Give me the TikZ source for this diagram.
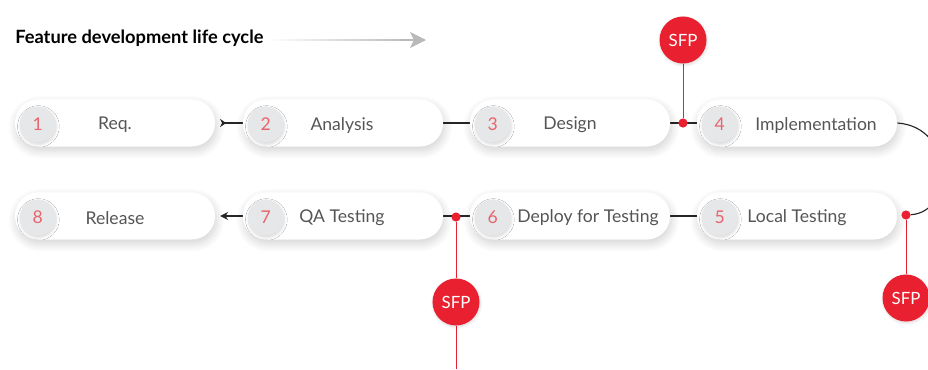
\documentclass[tikz,border=0pt]{standalone}
\usepackage{fontspec}
\setmainfont{Lato}
\usetikzlibrary{arrows.meta,shadows.blur,positioning}
\definecolor{sfpred}{HTML}{E8202F}
\definecolor{numred}{HTML}{E8646C}
\definecolor{numgray}{HTML}{E6E7E9}
\definecolor{txtgray}{HTML}{555555}
\pgfdeclarelayer{bg}
\pgfsetlayers{bg,main}
\tikzset{
  pill/.style={fill=white, rounded corners=0.58cm, minimum width=5cm, minimum height=1.175cm,
    blur shadow={shadow xshift=1pt, shadow yshift=-3pt, shadow blur radius=6pt, shadow blur steps=10, shadow opacity=18}},
  num/.style={circle, fill=numgray, minimum size=0.9cm, inner sep=0pt, text=numred,
    font=\fontsize{12.5}{14}\selectfont, yshift=-1pt,
    blur shadow={shadow xshift=0.5pt, shadow yshift=-1.5pt, shadow blur radius=2pt, shadow opacity=15}},
  steplabel/.style={text=txtgray, font=\fontsize{12.5}{14}\selectfont, inner sep=0pt, yshift=-1.5pt},
  sfp/.style={circle, fill=sfpred, minimum size=1.175cm, inner sep=0pt, text=white,
    font=\fontsize{12}{14}\selectfont,
    blur shadow={shadow xshift=0.5pt, shadow yshift=-1pt, shadow blur radius=2pt, shadow opacity=15}},
  reddot/.style={circle, fill=sfpred, minimum size=0.23cm, inner sep=0pt},
  link/.style={draw=black!85, line width=0.8pt},
  redlink/.style={draw=sfpred, line width=0.7pt}
}
\begin{document}
\begin{tikzpicture}[x=0.025cm,y=-0.025cm]
\useasboundingbox (0,0) rectangle (928,369);
% title and its arrow
\node[anchor=west, inner sep=0pt, font=\bfseries\fontsize{13}{15}\selectfont] (title) at (15,38) {Feature development life cycle};
\coordinate (tip) at (426,40);
\shade[left color=white, right color=gray!55] (265,39.3) rectangle (412,40.7);
\draw[gray!55, line width=1pt, -{Stealth[length=0.4cm, width=0.4cm, inset=0.1cm]}] (400,40) -- (tip);

% top row
\node[pill] (p1) at (115,123) {};
\node[pill] (p2) at (343,123) {};
\node[pill] (p3) at (570,123) {};
\node[pill] (p4) at (797,123) {};
% bottom row
\node[pill] (p8) at (115,216) {};
\node[pill] (p7) at (343,216) {};
\node[pill] (p6) at (570,216) {};
\node[pill] (p5) at (797,216) {};

\node[num] (n1) at ([xshift=0.575cm]p1.west) {1};
\node[num] (n2) at ([xshift=0.575cm]p2.west) {2};
\node[num] (n3) at ([xshift=0.575cm]p3.west) {3};
\node[num] (n4) at ([xshift=0.575cm]p4.west) {4};
\node[num] (n5) at ([xshift=0.575cm]p5.west) {5};
\node[num] (n6) at ([xshift=0.575cm]p6.west) {6};
\node[num] (n7) at ([xshift=0.575cm]p7.west) {7};
\node[num] (n8) at ([xshift=0.575cm]p8.west) {8};

\node[steplabel] (t1) at (115,123) {Req.};
\node[steplabel] (t2) at (342,123) {Analysis};
\node[steplabel] (t3) at (570,123) {Design};
\node[steplabel] (t4) at (816,123) {Implementation};
\node[steplabel] (t5) at (797,216) {Local Testing};
\node[steplabel] (t6) at (588,216) {Deploy for Testing};
\node[steplabel] (t7) at (342,216) {QA Testing};
\node[steplabel] (t8) at (115,216) {Release};

% SFP gates
\node[reddot] (d1) at (683,123) {};
\node[reddot] (d2) at (906,215) {};
\node[reddot] (d3) at (456,217) {};
\node[sfp] (s1) at (683,40) {SFP};
\node[sfp] (s2) at (906,298) {SFP};
\node[sfp] (s3) at (456,302) {SFP};
\coordinate (bot) at (456,369);

\begin{pgfonlayer}{bg}
\begin{scope}
\clip (0,0) rectangle (928,369);
\draw[link, -{Stealth[reversed, length=0.15cm, width=0.2cm]}, shorten >=0.12cm] (p2.west) -- (p1.east);
\draw[link] (p2.east) -- (p3.west);
\draw[link] (p3.east) -- (p4.west);
\draw[link] (p4.east) .. controls (955,127) and (955,212) .. (d2);
\draw[link] (p5.west) -- (p6.east);
\draw[link] (p6.west) -- (p7.east);
\draw[link, -{Stealth[length=0.2cm, width=0.2cm]}, shorten >=0.12cm] (p7.west) -- (p8.east);
\draw[redlink] (d1) -- (s1);
\draw[redlink] (d2) -- (s2);
\draw[redlink] (d3) -- (s3);
\draw[redlink] (s3) -- (bot);
\end{scope}
\end{pgfonlayer}
\end{tikzpicture}
\end{document}
